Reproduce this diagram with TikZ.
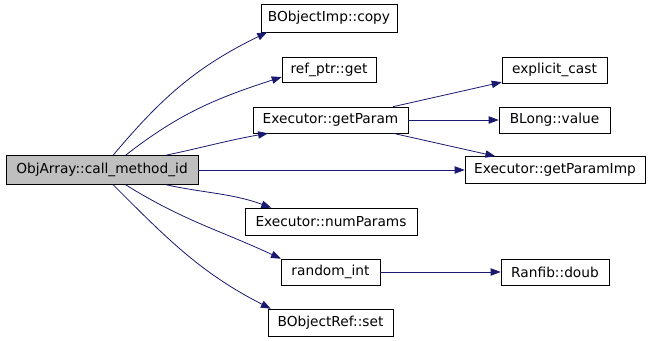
\documentclass[tikz,border=0pt]{standalone}
\usepackage{fontspec}
\setmainfont{DejaVu Sans}
\usepackage{tikz}
\usetikzlibrary{arrows.meta}

\definecolor{edgeblue}{HTML}{191970}

\begin{document}
\begin{tikzpicture}[x=0.75pt,y=-0.75pt,
  fn/.style={rectangle,draw,inner sep=0pt,minimum height=19.5pt,font=\fontsize{10.3}{12}\selectfont},
  call/.style={draw=edgeblue,line width=0.6pt,-{Triangle[length=7.5pt,width=5.5pt]}}]
  \useasboundingbox (0,0) rectangle (651,341);
  \node[fn,fill=black!25,minimum width=144pt,minimum height=21.75pt] (root) at (102,170) {ObjArray::call\_method\_id};
  \node[fn,minimum width=102pt,minimum height=21pt] (copy) at (329,18) {BObjectImp::copy};
  \node[fn,minimum width=70.5pt,minimum height=18.75pt] (get) at (329,69.5) {ref\_ptr::get};
  \node[fn,minimum width=116.25pt] (param) at (330.5,120) {Executor::getParam};
  \node[fn,minimum width=78.75pt] (cast) at (554.5,70) {explicit\_cast};
  \node[fn,minimum width=83.25pt] (value) at (554.5,120) {BLong::value};
  \node[fn,minimum width=135pt,minimum height=20.25pt] (imp) at (555,170) {Executor::getParamImp};
  \node[fn,minimum width=129pt,minimum height=20.25pt] (num) at (331,221.5) {Executor::numParams};
  \node[fn,minimum width=74.25pt] (rand) at (330.5,272) {random\_int};
  \node[fn,minimum width=81pt] (doub) at (555,272) {Ranfib::doub};
  \node[fn,minimum width=93.75pt,minimum height=20.25pt] (set) at (330.5,322.5) {BObjectRef::set};
  % calls from the root
  \draw[call] (root.53) to[out=50,in=206] (copy.193);
  \draw[call] (root.32) to[out=38,in=198] (get.189);
  \draw[call] (root.13) to[out=12,in=190] (param.192);
  \draw[call] (root) -- (imp);
  \draw[call] (root.-13) to[out=-12,in=160] (num.167);
  \draw[call] (root.-32) to[out=-32,in=155] (rand.165);
  \draw[call] (root.-53) to[out=-45,in=153] (set.167);
  % second level
  \draw[call] (param.12) -- (cast.193);
  \draw[call] (param) -- (value);
  \draw[call] (param.-12) -- (imp.167);
  \draw[call] (rand) -- (doub);
\end{tikzpicture}
\end{document}
